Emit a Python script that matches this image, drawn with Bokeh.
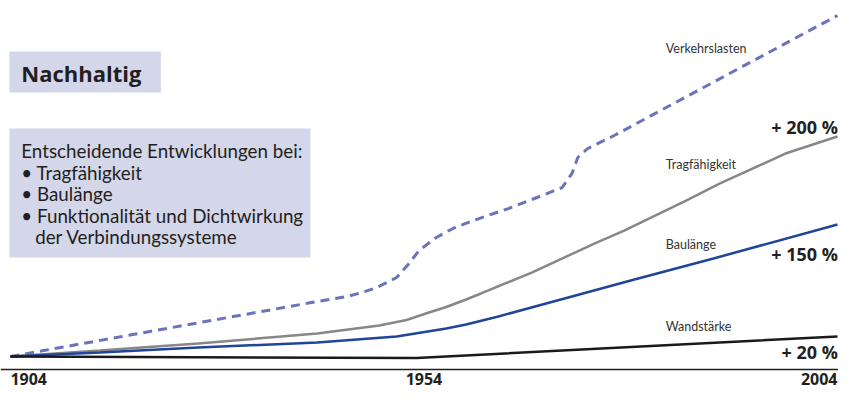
from bokeh.plotting import figure
from bokeh.models import Range1d, Span
from bokeh.core.properties import value
from bokeh.embed import file_html
from bokeh.resources import INLINE

# ---- data ----
verkehr_years = [1904, 1941.1, 1944.7, 1946.5, 1948.3, 1950.7, 1952.2, 1953.4, 1955.5, 1957.5,
                 1960.3, 1964.2, 1968.3, 1970.7, 1971.9, 1972.6, 1973.8, 1977.0, 2004]
verkehr_vals = [0, 50.0, 54.5, 58.2, 62.7, 71.8, 84.5, 96.4, 108.2, 116.4,
                124.5, 134.5, 146.4, 153.6, 166.4, 180.9, 189.1, 200.9, 310]

trag_years = [1904, 1914.8, 1926.7, 1941.1, 1948.6, 1951.9, 1954.6, 1956.7, 1959.1, 1960.9,
              1962.6, 1967.1, 1974.6, 1978.2, 1985.7, 1989.8, 1997.7, 2004]
trag_vals = [0, 5.5, 11.8, 20.9, 28.2, 33.2, 40, 45, 51.8, 57.3,
             62.7, 76.4, 102.7, 114.5, 141.8, 157.3, 184.5, 200]

bau_years = [1904, 1914.8, 1926.7, 1941.1, 1950.7, 1956.7, 1959.1, 1963.0, 1971.0, 1979.0,
             1989.0, 2004]
bau_vals = [0, 3.6, 8.2, 12.7, 18.2, 25.5, 29.1, 36.4, 52.7, 69.1, 89.1, 120]

wand_years = [1904, 1953.1, 2004]
wand_vals = [0, -1.4, 18.2]

tick_years = [1904, 1954, 2004]
tick_labels = ["1904", "1954", "2004"]

series_names = ["Verkehrslasten", "Tragfähigkeit", "Baulänge", "Wandstärke"]
pct_labels = ["+ 200 %", "+ 150 %", "+ 20 %"]

title_text = "Nachhaltig"
box_lines = ["Entscheidende Entwicklungen bei:", "• Tragfähigkeit", "• Baulänge",
             "• Funktionalität und Dichtwirkung", "der Verbindungssysteme"]

# ---- layout helpers (reference pixel -> data) ----
XS = 8.355   # px per year in the reference
YS = 1.1     # px per unit in the reference


def X(px):
    return 1904 + (px - 10) / XS


def Y(py):
    return (356 - py) / YS


def BL(py, size):
    # baseline at pixel py for a text drawn with text_baseline="middle"
    return Y(py - 0.36 * size)


W, H = 838, 389
p = figure(width=W, height=H, output_backend="svg", toolbar_location=None,
           x_range=Range1d(X(0), X(846.5)), y_range=Range1d(Y(389), Y(0)),
           min_border=0, min_border_left=0, min_border_right=0,
           min_border_top=0, min_border_bottom=0)
p.axis.visible = False
p.grid.visible = False
p.outline_line_color = None
p.background_fill_color = "white"
p.border_fill_color = "white"

LATO = value("Lato")
OPEN = value("Open Sans")
TXT = "#231f20"
BOX = "#d4d6ea"

# boxes
p.quad(left=[X(9), X(9)], right=[X(162), X(313)], top=[Y(51), Y(128)], bottom=[Y(92), Y(257)],
       fill_color=BOX, line_color=None)

p.text(x=[X(21)], y=[BL(80, 22)], text=[title_text], text_font=OPEN, text_font_style="bold",
       text_font_size="22px", text_baseline="middle", text_color=TXT)

FS_BOX = 18.8
bx = [X(21), X(21), X(21), X(21), X(35)]
by = [BL(157, FS_BOX), BL(178.5, FS_BOX), BL(200, FS_BOX), BL(221.5, FS_BOX), BL(243, FS_BOX)]
p.text(x=bx, y=by, text=box_lines, text_font=LATO, text_font_size=f"{FS_BOX}px",
       text_baseline="middle", text_color=TXT)

# lines
p.line(verkehr_years, verkehr_vals, line_color="#6b74b9", line_width=3, line_dash="9 6")
p.line(trag_years, trag_vals, line_color="#878787", line_width=2.5)
p.line(bau_years, bau_vals, line_color="#1f449a", line_width=2.5)
p.line(wand_years, wand_vals, line_color="#1a1a1a", line_width=2.5)

# series labels
FS_SER = 12.5
p.text(x=[X(672)] * 4, y=[BL(52, FS_SER), BL(168, FS_SER), BL(248, FS_SER), BL(330, FS_SER)],
       text=series_names, text_font=LATO, text_font_size=f"{FS_SER}px",
       text_baseline="middle", text_color="#333333")

# percent labels
FS_PCT = 18
p.text(x=[X(846)] * 3, y=[BL(133, FS_PCT), BL(260, FS_PCT), BL(358, FS_PCT)], text=pct_labels,
       text_font=OPEN, text_font_style="bold", text_font_size=f"{FS_PCT}px", text_align="right",
       text_baseline="middle", text_color=TXT)

# axis line
p.add_layout(Span(location=Y(369), dimension="width", line_color=TXT, line_width=1.5))

# year labels
FS_YR = 16
p.text(x=tick_years, y=[BL(384, FS_YR)] * 3, text=tick_labels, text_font=OPEN,
       text_font_style="bold", text_font_size=f"{FS_YR}px",
       text_align=["left", "center", "right"], text_baseline="middle", text_color=TXT)

open("out.html", "w").write(file_html(p, INLINE))
